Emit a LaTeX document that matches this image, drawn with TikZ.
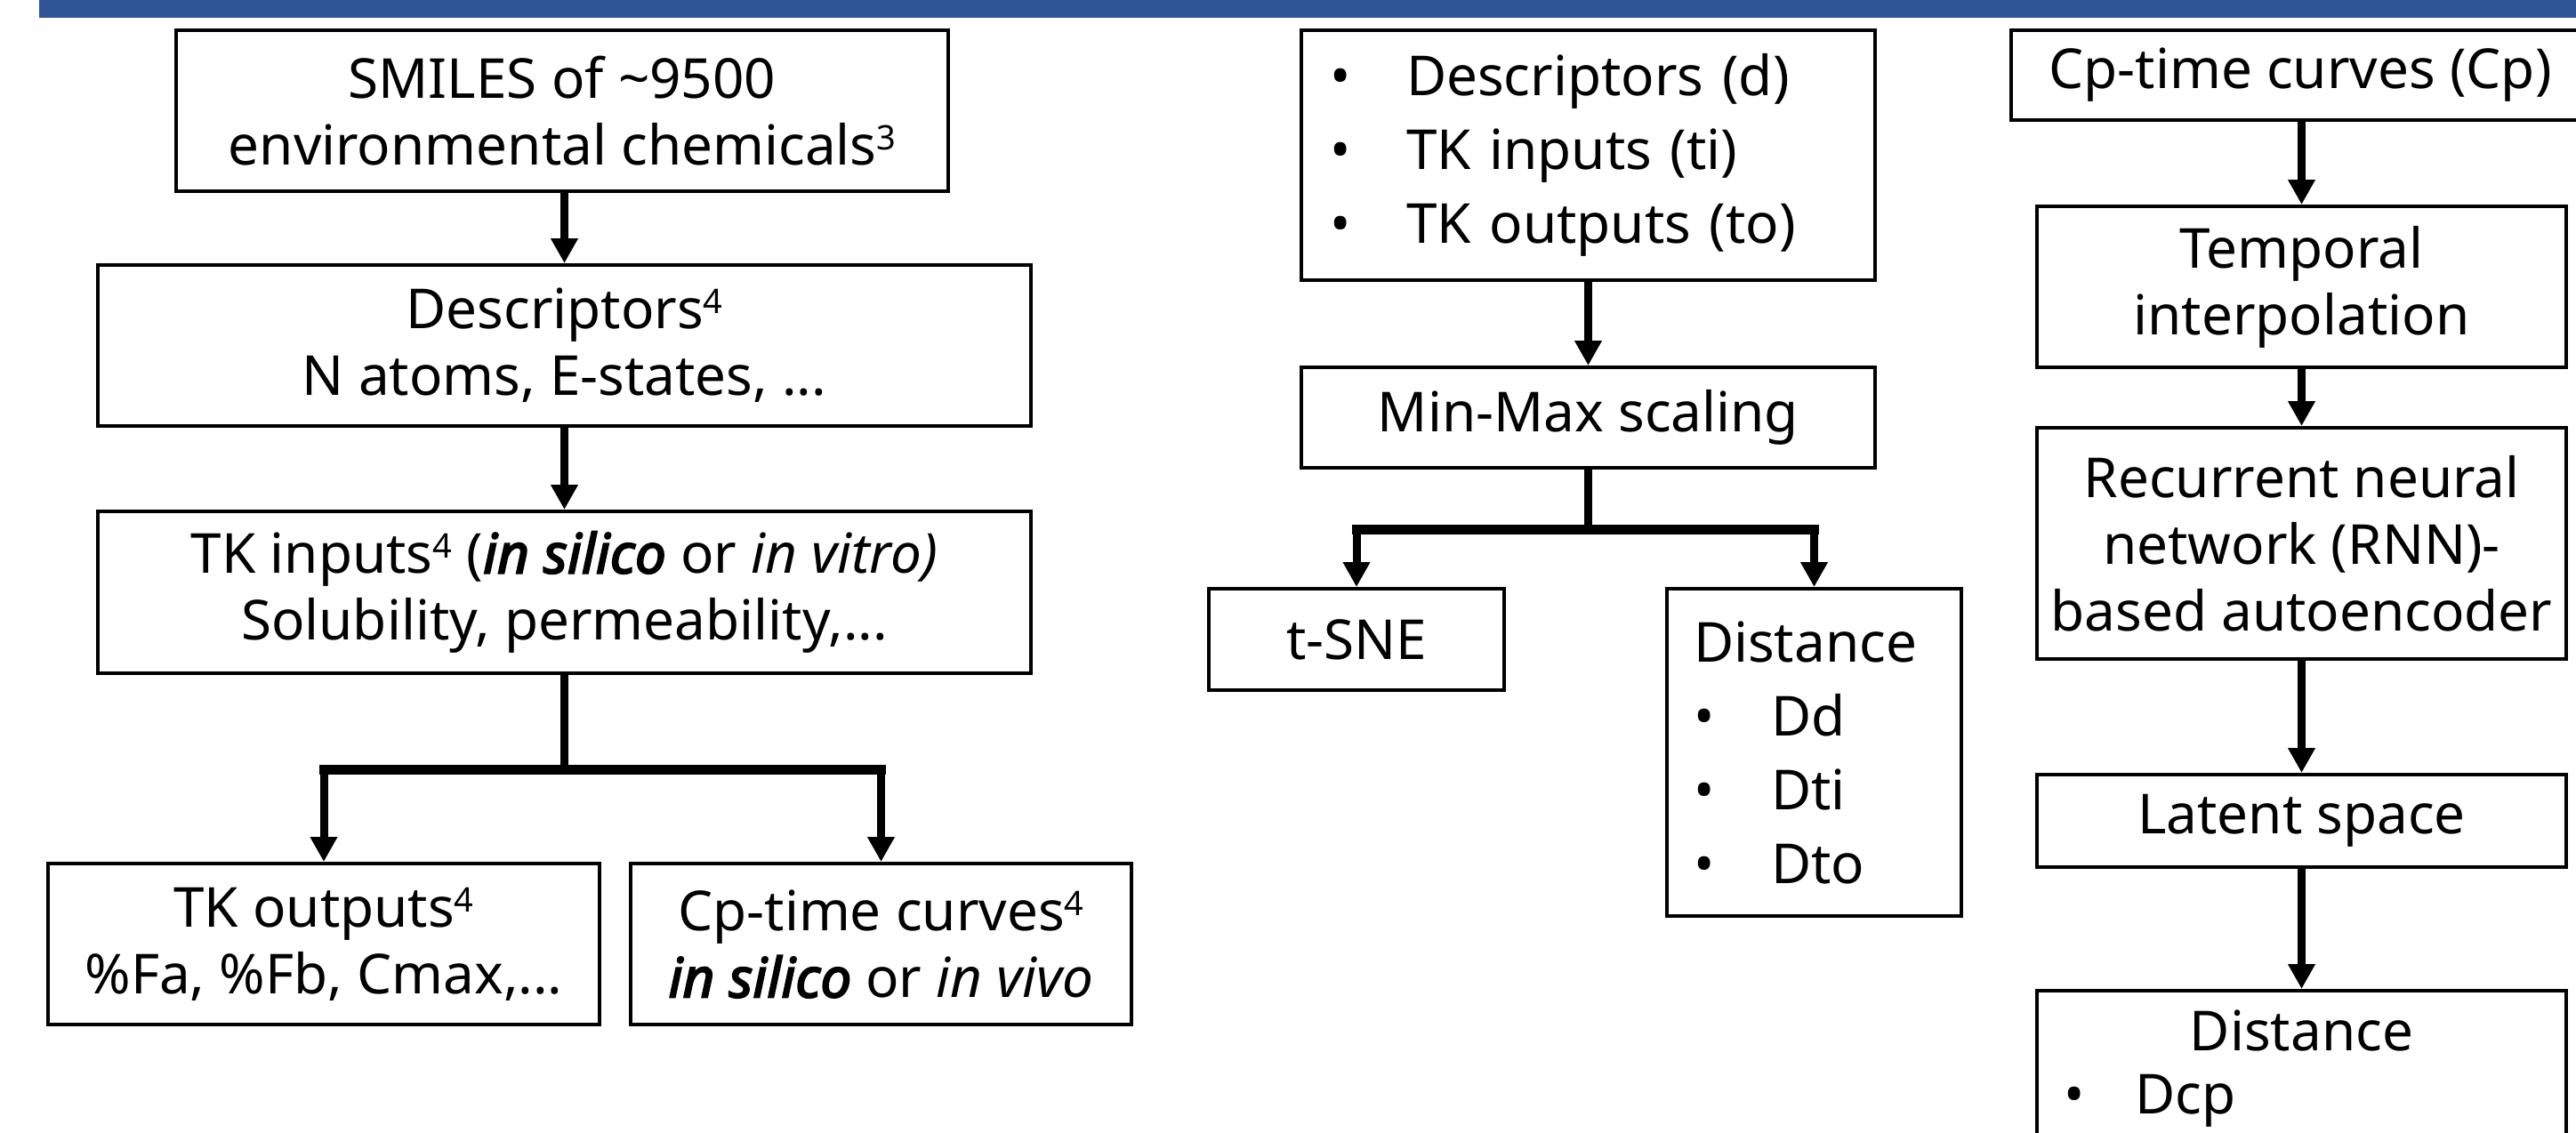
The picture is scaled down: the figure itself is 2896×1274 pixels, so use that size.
\documentclass[tikz,border=0pt]{standalone}
\usepackage{fontspec}
\setmainfont{Noto Sans}
\newfontfamily\heavysans{Noto Sans}[FakeBold=3]
\usetikzlibrary{arrows.meta,calc}
\definecolor{bandblue}{HTML}{2F5597}
\newcommand{\flowfont}{\fontsize{62}{75}\selectfont}
% raised reference number after a label
\newcommand{\refnum}[1]{\raisebox{17pt}{\fontsize{38}{38}\selectfont #1}}
% heavy italic for emphasised method names
\newcommand{\strongit}[1]{{\heavysans\itshape #1}}
\begin{document}
\begin{tikzpicture}[x=1pt,y=-1pt,
  box/.style={draw, line width=4pt, inner sep=0pt, align=center, font=\flowfont},
  listbox/.style={draw, line width=4pt, inner ysep=0pt, align=left, font=\flowfont},
  arr/.style={line width=9pt, -{Triangle[length=28pt,width=29pt]}},
  stem/.style={line width=9pt},
  bar/.style={line width=11pt, line cap=rect}]
% canvas
\clip (0,0) rectangle (2896,1274);
\fill[white] (0,0) rectangle (2896,1274);
\fill[bandblue] (44,0) rectangle (2896,20);

% ---- left column: data sources ----
\node[box, minimum width=868pt, minimum height=181pt] (smiles) at (632,124.5)
  {SMILES of \textasciitilde9500\\environmental chemicals\refnum{3}};
\node[box, minimum width=1049pt, minimum height=181pt] (desc) at (634.5,388.5)
  {Descriptors\refnum{4}\\N atoms, E-states, ...};
\node[box, minimum width=1049pt, minimum height=182pt] (tkin) at (634.5,666)
  {TK inputs\refnum{4} (\strongit{in silico} or \textit{in vitro)}\\Solubility, permeability,...};
\node[box, minimum width=620pt, minimum height=181pt] (tkout) at (364,1061.5)
  {TK outputs\refnum{4}\\\%Fa, \%Fb, Cmax,...};
\node[box, minimum width=563pt, minimum height=181pt] (cpcurve) at (990.5,1061.5)
  {Cp-time curves\refnum{4}\\\strongit{in silico} or \textit{in vivo}};

\draw[arr] (smiles.south -| desc.north) -- (desc.north);
\draw[arr] (desc.south) -- (tkin.north);
\coordinate (split1) at ($(tkin.south)+(0,106)$);
\draw[stem] (tkin.south) -- (split1);
\draw[bar] (tkout.north |- split1) -- (cpcurve.north |- split1);
\draw[arr] (tkout.north |- split1) -- (tkout.north);
\draw[arr] (cpcurve.north |- split1) -- (cpcurve.north);

% ---- middle column: feature spaces ----
\node[listbox, inner xsep=32pt, text width=581pt, minimum height=281pt] (feat) at (1785.5,174.5)
  {\makebox[86pt][l]{\textbullet}Descriptors (d)\\[8pt]
   \makebox[86pt][l]{\textbullet}TK inputs (ti)\\[8pt]
   \makebox[86pt][l]{\textbullet}TK outputs (to)};
\node[box, minimum width=645pt, minimum height=113pt] (minmax) at (1785.5,469.5)
  {Min-Max scaling};
\node[box, minimum width=332pt, minimum height=114pt] (tsne) at (1525,719) {t-SNE};
\node[listbox, inner xsep=30pt, text width=271pt, minimum height=368pt] (dist1) at (2039.5,846)
  {Distance\\[8pt]
   \makebox[87pt][l]{\textbullet}Dd\\[8pt]
   \makebox[87pt][l]{\textbullet}Dti\\[8pt]
   \makebox[87pt][l]{\textbullet}Dto};

\draw[arr] (feat.south) -- (minmax.north);
\coordinate (split2) at ($(minmax.south)+(0,67)$);
\draw[stem] (minmax.south) -- (split2);
\draw[bar] (tsne.north |- split2) -- (dist1.north |- split2);
\draw[arr] (tsne.north |- split2) -- (tsne.north);
\draw[arr] (dist1.north |- split2) -- (dist1.north);

% ---- right column: concentration-time curves ----
\node[box, minimum width=650pt, minimum height=101pt] (cp) at (2586,84)
  {Cp-time curves (Cp)};
\node[box, minimum width=595pt, minimum height=181pt] (interp) at (2587.5,322.5)
  {Temporal\\interpolation};
\node[box, minimum width=595pt, minimum height=260pt] (rnn) at (2587.5,611)
  {Recurrent neural\\network (RNN)-\\based autoencoder};
\node[box, minimum width=595pt, minimum height=104pt] (latent) at (2587.5,923)
  {Latent space};
\node[listbox, anchor=north, inner xsep=30pt, inner ysep=22pt, text width=535pt] (dist2) at (2587.5,1112)
  {\makebox[535pt]{Distance}\\[-4pt]
   \makebox[80pt][l]{\textbullet}Dcp\\[8pt]\strut};

\draw[arr] (cp.south -| interp.north) -- (interp.north);
\draw[arr] (interp.south) -- (rnn.north);
\draw[arr] (rnn.south) -- (latent.north);
\draw[arr] (latent.south) -- (dist2.north);
\end{tikzpicture}
\end{document}
